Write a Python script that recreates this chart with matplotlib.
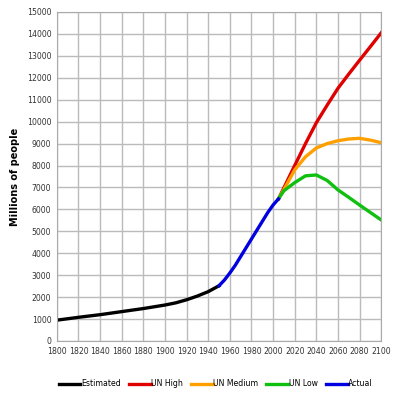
import numpy as np
import matplotlib.pyplot as plt

est_years = [1800, 1820, 1840, 1860, 1880, 1900, 1910, 1920, 1930, 1940, 1950]
est_pop = [950, 1080, 1200, 1340, 1480, 1640, 1740, 1880, 2050, 2250, 2520]

act_years = [1950, 1955, 1960, 1965, 1970, 1975, 1980, 1985, 1990, 1995, 2000, 2005]
act_pop = [2520, 2780, 3100, 3450, 3850, 4250, 4650, 5050, 5450, 5850, 6200, 6480]

proj_years = [2005, 2010, 2020, 2030, 2040, 2050, 2060, 2070, 2080, 2090, 2100]
high_pop = [6480, 6980, 8000, 9000, 9950, 10750, 11520, 12170, 12800, 13420, 14050]
med_pop = [6480, 6900, 7800, 8400, 8800, 9000, 9130, 9210, 9240, 9160, 9040]
low_pop = [6480, 6850, 7220, 7530, 7570, 7320, 6890, 6550, 6200, 5860, 5520]

plt.figure(figsize=(3.95, 4.0), dpi=100)
ax = plt.axes([0.144, 0.1475, 0.821, 0.8225])

lw = 2.4
ax.plot(est_years, est_pop, color='black', lw=lw, label='Estimated')
ax.plot(proj_years, high_pop, color='#e00000', lw=lw, label='UN High')
ax.plot(proj_years, med_pop, color='#ffa000', lw=lw, label='UN Medium')
ax.plot(proj_years, low_pop, color='#10c010', lw=lw, label='UN Low')
ax.plot(act_years, act_pop, color='#0000e0', lw=lw, label='Actual')

ax.set_xlim(1800, 2100)
ax.set_ylim(0, 15000)
ax.set_xticks(np.arange(1800, 2101, 20))
ax.set_yticks(np.arange(0, 15001, 1000))
ax.tick_params(labelsize=5.6, colors='#333333', length=0, pad=4)
ax.grid(True, color='#bbbbbb', lw=1)
ax.set_axisbelow(True)
for s in ax.spines.values():
    s.set_color('#aaaaaa')

ax.set_ylabel('Millions of people', fontsize=7, fontweight='bold', labelpad=5)

ax.legend(loc='upper center', bbox_to_anchor=(0.49, -0.095), ncol=5, frameon=False,
          fontsize=5.6, handlelength=2.8, handletextpad=0.1, columnspacing=1.0)

plt.savefig('out.png', dpi=100)
